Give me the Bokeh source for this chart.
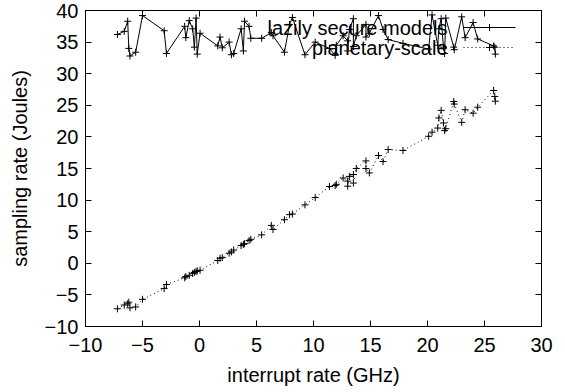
from bokeh.plotting import figure
from bokeh.models import Range1d, LinearAxis, FixedTicker, Label, Arrow, CustomLabelingPolicy
from bokeh.embed import file_html
from bokeh.resources import INLINE

# ---- data ----
x_vals = [-7.2, -6.6, -6.3, -6.2, -6.1, -5.6, -5.0, -3.1, -2.9, -1.3,
          -1.2, -0.9, -0.6, -0.45, -0.3, -0.2, 0.05, 1.6, 1.8, 2.0,
          2.6, 2.8, 3.0, 3.65, 3.85, 3.95, 4.35, 4.5, 5.45, 6.3,
          6.45, 7.45, 7.9, 8.15, 9.25, 10.15, 11.4, 11.9, 12.0, 12.6,
          13.0, 13.0, 13.15, 13.5, 13.5, 13.75, 14.6, 14.6, 14.9, 15.7,
          16.1, 16.55, 17.85, 20.1, 20.4, 20.9, 21.0, 21.2, 21.4, 21.5,
          21.6, 22.3, 22.35, 23.0, 23.3, 24.0, 24.4, 25.8, 25.9, 25.95]

secure_y = [36.2, 36.7, 38.3, 34.0, 32.8, 33.4, 39.2, 36.8, 33.2, 37.5,
            35.7, 38.4, 37.1, 34.2, 38.8, 33.1, 36.4, 34.4, 35.8, 34.1,
            35.0, 33.0, 33.2, 37.1, 33.6, 38.3, 37.5, 35.6, 35.6, 36.5,
            36.0, 33.4, 37.8, 38.9, 33.0, 35.0, 34.0, 32.9, 34.5, 36.0,
            35.2, 33.6, 37.0, 38.7, 34.3, 36.0, 37.8, 35.8, 36.4, 39.2,
            37.0, 35.4, 34.8, 33.9, 39.3, 34.5, 37.1, 38.7, 34.2, 33.2,
            38.8, 34.2, 33.8, 39.0, 35.7, 38.1, 35.5, 34.4, 34.2, 33.1]

planetary_y = [-7.2, -6.6, -6.4, -6.15, -7.05, -6.9, -5.7, -4.0, -3.35, -2.3,
               -2.1, -1.9, -1.6, -1.45, -1.3, -1.2, -1.1, 0.45, 0.8, 0.9,
               1.6, 1.8, 2.1, 2.8, 3.0, 3.1, 3.6, 3.8, 4.5, 6.0,
               5.35, 6.9, 7.7, 7.8, 9.25, 10.4, 12.15, 12.3, 12.5, 13.5,
               13.0, 12.2, 13.75, 14.05, 12.7, 15.0, 16.2, 15.0, 14.3, 17.05,
               16.1, 18.0, 17.85, 20.1, 20.75, 21.4, 23.0, 24.2, 22.2, 21.0,
               21.3, 25.6, 25.2, 22.3, 24.3, 23.75, 24.7, 27.35, 26.4, 25.65]

series_names = ["lazily secure models", "planetary-scale"]
x_ticks = [-10, -5, 0, 5, 10, 15, 20, 25, 30]
y_ticks = [-10, -5, 0, 5, 10, 15, 20, 25, 30, 35, 40]
x_label = "interrupt rate (GHz)"
y_label = "sampling rate (Joules)"

FONT = "Liberation Sans"
FS = "20px"

p = figure(width=565, height=392, output_backend="svg", toolbar_location=None,
           x_range=Range1d(-10, 30), y_range=Range1d(-10, 40),
           min_border_left=85, min_border_right=24, min_border_top=10,
           min_border_bottom=66, x_axis_label=x_label, y_axis_label=y_label)

p.grid.visible = False
p.outline_line_color = "black"
p.outline_line_width = 1
p.background_fill_color = "white"
p.border_fill_color = "white"

for ax, ticks in ((p.xaxis[0], x_ticks), (p.yaxis[0], y_ticks)):
    ax.ticker = FixedTicker(ticks=ticks)
    ax.major_tick_in = 6
    ax.major_tick_out = 0
    ax.minor_tick_line_color = None
    ax.axis_line_color = "black"
    ax.major_tick_line_color = "black"
    ax.major_label_text_font = FONT
    ax.major_label_text_font_size = FS
    ax.major_label_text_color = "black"
    ax.axis_label_text_font = FONT
    ax.axis_label_text_font_size = FS
    ax.axis_label_text_font_style = "normal"
    ax.axis_label_text_color = "black"

p.xaxis[0].major_label_standoff = 11
p.xaxis[0].axis_label_standoff = 9
p.yaxis[0].major_label_standoff = 7
p.yaxis[0].axis_label_standoff = 11

# mirror ticks on top and right (labels suppressed)
for loc, ticks in (("above", x_ticks), ("right", y_ticks)):
    ax = LinearAxis(ticker=FixedTicker(ticks=ticks), major_tick_in=6, major_tick_out=0,
                    minor_tick_line_color=None, major_label_text_font_size="1px",
                    major_label_policy=CustomLabelingPolicy(code="return []"),
                    major_label_standoff=0, axis_line_color="black",
                    major_tick_line_color="black")
    p.add_layout(ax, loc)

# series
p.line(x_vals, secure_y, line_color="black", line_width=1)
p.scatter(x_vals, secure_y, marker="cross", size=7, line_color="black", line_width=1)
p.line(x_vals, planetary_y, line_color="black", line_width=1, line_dash="1 3")
p.scatter(x_vals, planetary_y, marker="cross", size=7, line_color="black", line_width=1)

# gnuplot-style key (text then sample), in screen units relative to frame
key_y = [299, 279]
dashes = ["solid", "1 3"]
for name, ky, dash in zip(series_names, key_y, dashes):
    p.add_layout(Label(x=362, y=ky, x_units="screen", y_units="screen", text=name,
                       text_align="right", text_baseline="middle",
                       text_font=FONT, text_font_size=FS, text_color="black"))
    p.add_layout(Arrow(end=None, x_start=378, y_start=ky, x_end=430, y_end=ky,
                       start_units="screen", end_units="screen",
                       line_color="black", line_width=1, line_dash=dash))
    p.add_layout(Arrow(end=None, x_start=404, y_start=ky - 3.5, x_end=404, y_end=ky + 3.5,
                       start_units="screen", end_units="screen",
                       line_color="black", line_width=1))
    p.add_layout(Arrow(end=None, x_start=400.5, y_start=ky, x_end=407.5, y_end=ky,
                       start_units="screen", end_units="screen",
                       line_color="black", line_width=1))

open("out.html", "w").write(file_html(p, INLINE))
